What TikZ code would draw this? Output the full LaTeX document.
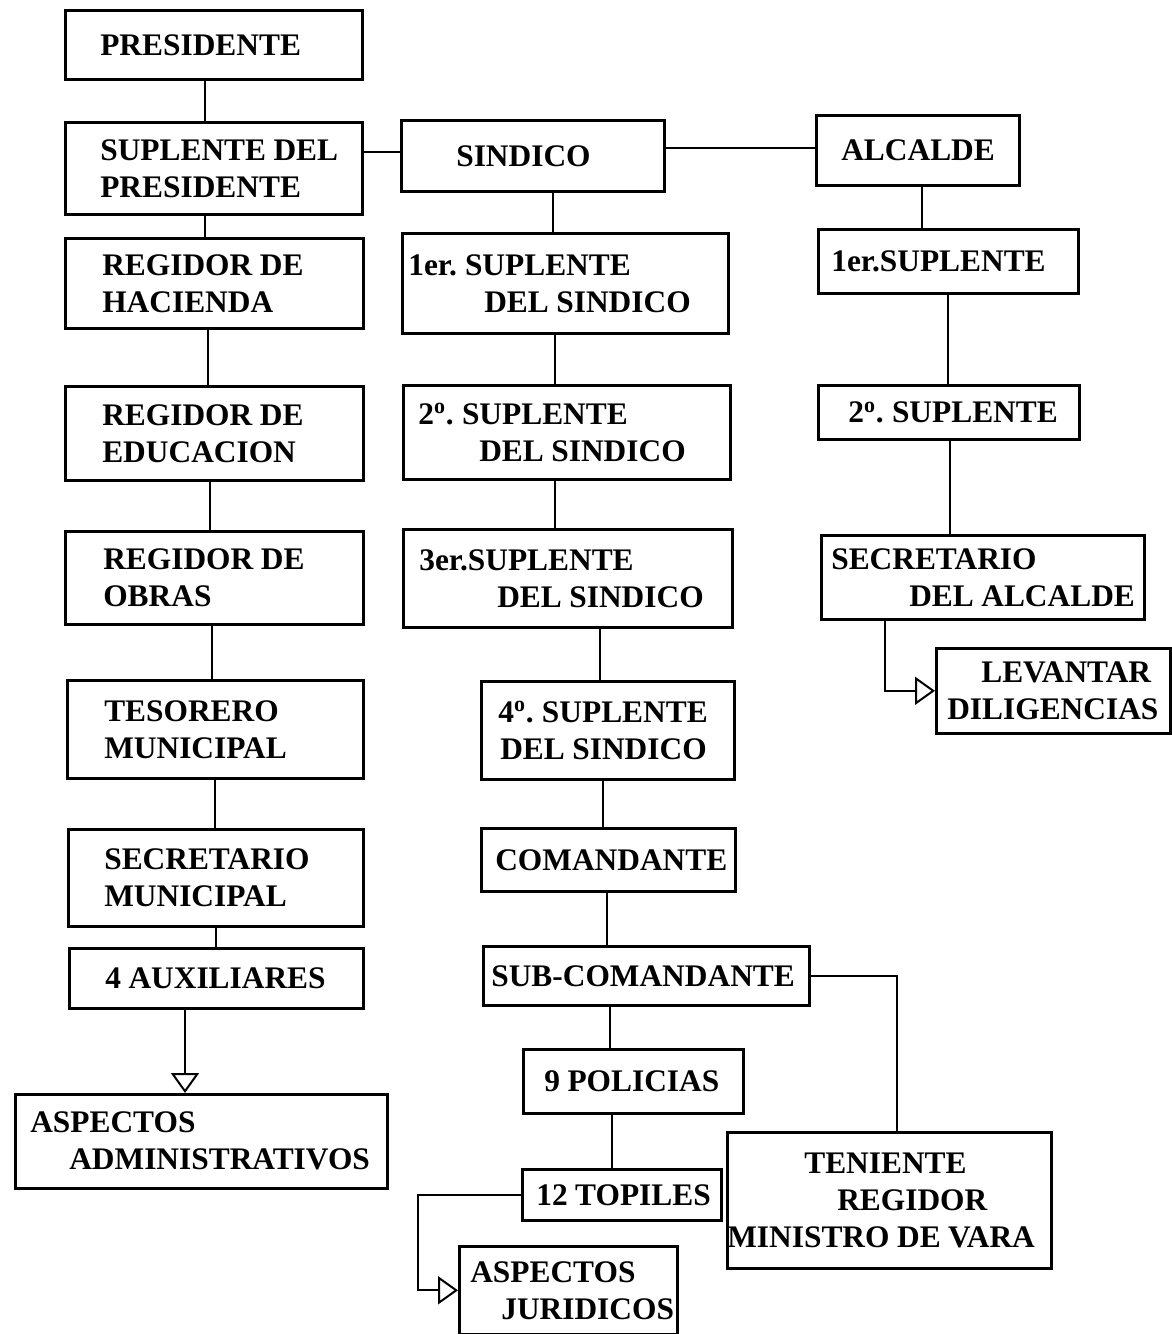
\documentclass[tikz,border=0pt]{standalone}
\usepackage{fontspec}
\setmainfont{Liberation Serif}
\usetikzlibrary{arrows.meta}
\tikzset{
  cargo/.style={draw, line width=1.3pt, anchor=north west, inner xsep=0pt, inner ysep=0pt,
    align=left, font=\fontsize{15.7}{18.5}\selectfont\bfseries,
    execute at begin node={\spaceskip=0.24em\xspaceskip=0.26em\relax}},
  enlace/.style={line width=1pt},
  flecha/.style={line width=1pt, -{Triangle[open, width=14pt, length=10pt, line width=1pt]}}
}
\newcommand{\ind}[1]{\hspace*{#1pt}}
\newcommand{\ord}{\textsuperscript{o}}
\begin{document}
\begin{tikzpicture}[x=0.5pt, y=-0.5pt]
  \useasboundingbox (0,0) rectangle (1172,1334);

  % columna del presidente
  \node[cargo, text width=148.5pt, minimum height=34.5pt] (pres) at (64,9) {\ind{17.5}PRESIDENTE};
  \node[cargo, text width=148.5pt, minimum height=46pt] (suppres) at (64,121) {\ind{17.5}SUPLENTE DEL\\\ind{17.5}PRESIDENTE};
  \node[cargo, text width=149pt, minimum height=45pt] (hac) at (64,237) {\ind{18.5}REGIDOR DE\\\ind{18.5}HACIENDA};
  \node[cargo, text width=149pt, minimum height=47pt] (edu) at (64,385) {\ind{18.5}REGIDOR DE\\\ind{18.5}EDUCACION};
  \node[cargo, text width=149pt, minimum height=46.5pt] (obras) at (64,530) {\ind{19}REGIDOR DE\\\ind{19}OBRAS};
  \node[cargo, text width=148pt, minimum height=49pt] (tes) at (66,679) {\ind{18.5}TESORERO\\\ind{18.5}MUNICIPAL};
  \node[cargo, text width=147.5pt, minimum height=48.5pt] (secmun) at (67,828) {\ind{18}SECRETARIO\\\ind{18}MUNICIPAL};
  \node[cargo, text width=147pt, minimum height=30pt] (aux) at (68,947) {\ind{18}4 AUXILIARES};
  \node[cargo, text width=186pt, minimum height=47pt] (aspadm) at (14,1093) {\ind{7.5}ASPECTOS\\\ind{27}ADMINISTRATIVOS};

  % columna del sindico
  \node[cargo, text width=131.5pt, minimum height=35.5pt] (sind) at (400,119) {\ind{27.5}SINDICO};
  \node[cargo, text width=163pt, minimum height=50pt] (sup1) at (401,232) {\ind{3}1er. SUPLENTE\\\ind{41}DEL SINDICO};
  \node[cargo, text width=163.5pt, minimum height=47pt] (sup2) at (402,384) {\ind{7.5}2\ord. SUPLENTE\\\ind{38}DEL SINDICO};
  \node[cargo, text width=164.5pt, minimum height=49pt] (sup3) at (402,528) {\ind{8}3er.SUPLENTE\\\ind{47}DEL SINDICO};
  \node[cargo, text width=126.5pt, minimum height=49pt] (sup4) at (480,680) {\ind{8.5}4\ord. SUPLENTE\\\ind{9.5}DEL SINDICO};
  \node[cargo, text width=127pt, minimum height=31.5pt] (coman) at (480,827) {\ind{7}COMANDANTE};
  \node[cargo, text width=163pt, minimum height=29.5pt] (subcom) at (482,945) {\ind{4}SUB-COMANDANTE};
  \node[cargo, text width=110pt, minimum height=32pt] (polic) at (522,1048) {\ind{10.5}9 POLICIAS};
  \node[cargo, text width=99.5pt, minimum height=25.5pt] (topil) at (521,1168) {\ind{7}12 TOPILES};
  \node[cargo, text width=109pt, minimum height=44pt] (asjur) at (458,1245) {\ind{5.5}ASPECTOS\\\ind{21}JURIDICOS};
  \node[cargo, text width=162pt, minimum height=68pt] (tenie) at (726,1131) {\ind{38.5}TENIENTE\\\ind{55}REGIDOR\\MINISTRO DE VARA};

  % columna del alcalde
  \node[cargo, text width=101.5pt, minimum height=35pt] (alcal) at (815,114) {\ind{12.5}ALCALDE};
  \node[cargo, text width=130pt, minimum height=32pt] (alc1) at (817,228) {\ind{6.5}1er.SUPLENTE};
  \node[cargo, text width=130.5pt, minimum height=27pt] (alc2) at (817,384) {\ind{15}2\ord. SUPLENTE};
  \node[cargo, text width=161.5pt, minimum height=42pt] (secal) at (820,534) {\ind{5}SECRETARIO\\\ind{44}DEL ALCALDE};
  \node[cargo, text width=117pt, minimum height=42.5pt] (levan) at (935,647) {\ind{22.5}LEVANTAR\\\ind{5.5}DILIGENCIAS};

  % enlaces
  \draw[enlace] (pres.south -| 205,0) -- (suppres.north -| 205,0);
  \draw[enlace] (suppres.south -| 205,0) -- (hac.north -| 205,0);
  \draw[enlace] (hac.south -| 208,0) -- (edu.north -| 208,0);
  \draw[enlace] (edu.south -| 210,0) -- (obras.north -| 210,0);
  \draw[enlace] (obras.south -| 212,0) -- (tes.north -| 212,0);
  \draw[enlace] (tes.south -| 215,0) -- (secmun.north -| 215,0);
  \draw[enlace] (secmun.south -| 216,0) -- (aux.north -| 216,0);
  \draw[flecha] (aux.south -| 185,0) -- (aspadm.north -| 185,0);

  \draw[enlace] (suppres.east |- 0,152) -- (sind.west |- 0,152);
  \draw[enlace] (sind.east |- 0,148) -- (alcal.west |- 0,148);

  \draw[enlace] (sind.south -| 553,0) -- (sup1.north -| 553,0);
  \draw[enlace] (sup1.south -| 555,0) -- (sup2.north -| 555,0);
  \draw[enlace] (sup2.south -| 555,0) -- (sup3.north -| 555,0);
  \draw[enlace] (sup3.south -| 600,0) -- (sup4.north -| 600,0);
  \draw[enlace] (sup4.south -| 603,0) -- (coman.north -| 603,0);
  \draw[enlace] (coman.south -| 607,0) -- (subcom.north -| 607,0);
  \draw[enlace] (subcom.south -| 610,0) -- (polic.north -| 610,0);
  \draw[enlace] (polic.south -| 612,0) -- (topil.north -| 612,0);
  \draw[enlace] (subcom.east) -| (tenie.north -| 897,0);
  \draw[flecha] (topil.west) -- ++(-103,0) |- (asjur.west);

  \draw[enlace] (alcal.south -| 922,0) -- (alc1.north -| 922,0);
  \draw[enlace] (alc1.south -| 948,0) -- (alc2.north -| 948,0);
  \draw[enlace] (alc2.south -| 950,0) -- (secal.north -| 950,0);
  \draw[flecha] (secal.south -| 885,0) |- (levan.west);
\end{tikzpicture}
\end{document}
